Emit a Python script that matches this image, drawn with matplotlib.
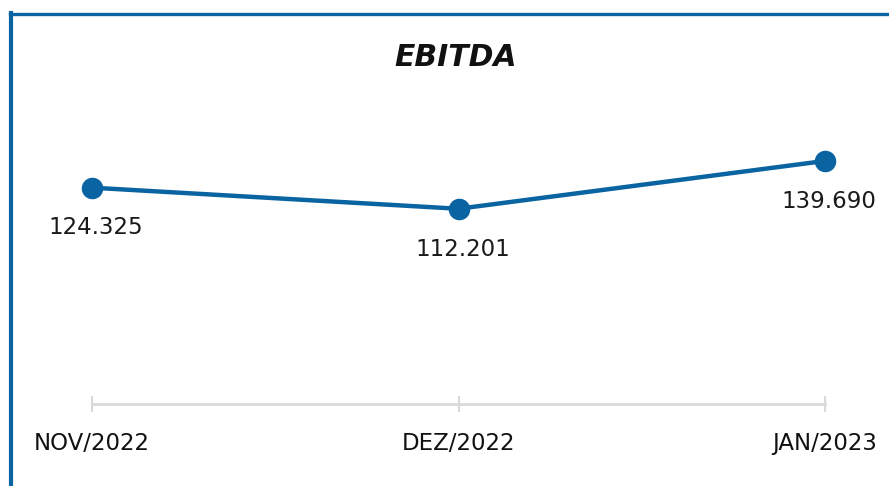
import matplotlib
matplotlib.use("Agg")
import matplotlib.pyplot as plt
from matplotlib.lines import Line2D

categories = ["NOV/2022", "DEZ/2022", "JAN/2023"]
values = [124.325, 112.201, 139.690]
labels = ["124.325", "112.201", "139.690"]

W, H = 889, 486
fig = plt.figure(figsize=(W / 100, H / 100), dpi=100)
plt.rcParams['font.family'] = ['DejaVu Sans']

color = "#0B64A2"
ax_left, ax_right = 92 / W, 825 / W
ax_bottom = 1 - 404 / H
ax_top = 1 - 100 / H
ax = fig.add_axes([ax_left, ax_bottom, ax_right - ax_left, ax_top - ax_bottom])
ymax = 304 / 1.74
ax.set_xlim(0, len(categories) - 1)
ax.set_ylim(0, ymax)

x = list(range(len(categories)))
ax.plot(x, values, color=color, lw=3.2, marker="o", ms=14.5, clip_on=False, zorder=5)
for xi, v, lab in zip(x, values, labels):
    ax.annotate(lab, (xi, v), xytext=(3, -29), textcoords="offset points",
                ha="center", va="center", fontsize=16.5, color="#1a1a1a",
                annotation_clip=False)

for s in ["left", "right", "top"]:
    ax.spines[s].set_visible(False)
ax.spines["bottom"].set_color("#D9D9D9")
ax.spines["bottom"].set_linewidth(2)
ax.set_yticks([])
ax.set_xticks(x)
ax.set_xticklabels(categories, fontsize=16.5, color="#111111")
ax.tick_params(axis="x", direction="inout", length=12, width=1.5, color="#D9D9D9", pad=14)

fig.text(456 / W, 1 - 58 / H, "EBITDA", ha="center", va="center",
         fontsize=21.5, fontweight="bold", fontstyle="italic", color="#111111")

fig.add_artist(Line2D([11 / W, 11 / W], [0, 1 - 13.5 / H], color=color, lw=3, transform=fig.transFigure))
fig.add_artist(Line2D([9.5 / W, 1], [1 - 14 / H, 1 - 14 / H], color=color, lw=2.4, transform=fig.transFigure))

fig.savefig("out.png", dpi=100)
